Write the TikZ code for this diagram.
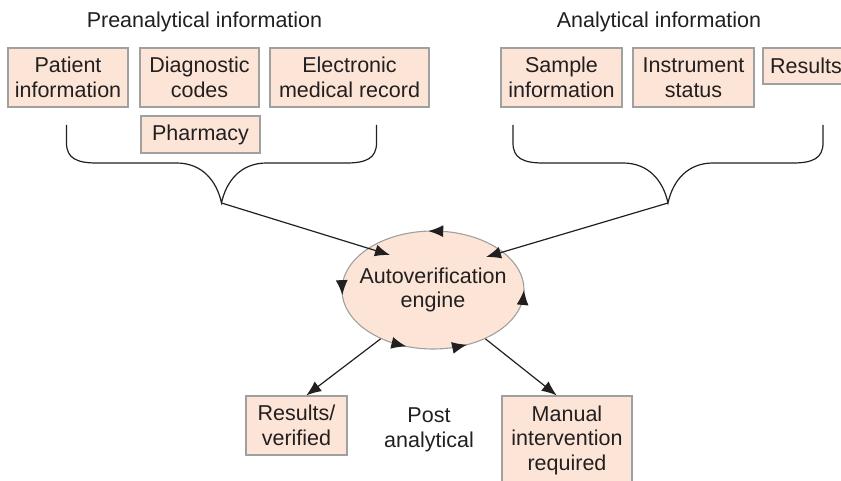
\documentclass[tikz,border=0pt]{standalone}
\usepackage{fontspec}
\setmainfont{Liberation Sans}
\usetikzlibrary{shapes.geometric,arrows.meta,calc}
\definecolor{peach}{RGB}{252,229,214}
\definecolor{boxline}{RGB}{160,160,160}
\definecolor{ink}{RGB}{35,31,32}
\tikzset{
	infobox/.style={draw=boxline, fill=peach, line width=1.1pt, align=center, inner sep=0pt},
	arr/.style={-{Latex[length=15pt,width=12pt]}, line width=1.2pt, draw=ink},
}

\begin{document}
\begin{tikzpicture}[x=1pt, y=-1pt, font=\fontsize{21.5}{24.5}\selectfont, text=ink]
	\clip(0, 0)rectangle(841, 481);
	% headings
	\node(pre)at(204.5, 22){Preanalytical information};
	\node(ana)at(659, 22){Analytical information};
	% preanalytical sources
	\node[infobox, minimum width=120pt, minimum height=59pt](patient)at(68, 77.5){Patient\\information};
	\node[infobox, minimum width=119pt, minimum height=59pt](diag)at(199.5, 77.5){Diagnostic\\codes};
	\node[infobox, minimum width=159pt, minimum height=59pt](emr)at(349.5, 77.5){Electronic\\medical record};
	\node[infobox, minimum width=119pt, minimum height=37pt](pharm)at(200.5, 134.5){Pharmacy};
	% analytical sources
	\node[infobox, minimum width=121pt, minimum height=59pt](sample)at(561.5, 77.5){Sample\\information};
	\node[infobox, minimum width=121pt, minimum height=59pt](instr)at(693.5, 77.5){Instrument\\status};
	\node[infobox, minimum width=86pt, minimum height=36pt](results)at(806, 66){Results};
	% the two braces
	\foreach \tx/\nm in {221.5/L, 668/R}{
		\coordinate(tip\nm)at(\tx, 203);
		\draw[line width=1.2pt, ink]({\tx-155}, 125)--({\tx-155}, 143)
			..controls({\tx-155}, 158)and({\tx-145}, 163)..({\tx-125}, 163)--({\tx-45}, 163)
			..controls({\tx-20}, 163)and({\tx-5}, 180)..(tip\nm)
			..controls({\tx+5}, 180)and({\tx+20}, 163)..({\tx+45}, 163)--({\tx+125}, 163)
			..controls({\tx+145}, 163)and({\tx+155}, 158)..({\tx+155}, 143)--({\tx+155}, 125);
	}
	% engine
	\node[ellipse, draw=boxline, fill=peach, line width=1.1pt, minimum width=182pt, minimum height=118pt, inner sep=0pt](engine)at(433, 290){};
	\node[align=center](engtext)at(engine){Autoverification\\engine};
	\foreach \a in {267, 175, 107, 68, 0}
		\draw[arr]($(engine.center)+({\a+7}:91 and 59)$)--($(engine.center)+(\a:91 and 59)$);
	\coordinate(inL)at(390, 255);
	\coordinate(inR)at(486, 257);
	\draw[arr](tipL)--(inL);
	\draw[arr](tipR)--(inR);
	% post analytical
	\node[infobox, minimum width=101pt, minimum height=59pt](verified)at(296.5, 425.5){Results/\\verified};
	\node[align=center](post)at(429, 430){Post\\analytical};
	\node[infobox, minimum width=130pt, minimum height=88pt](manual)at(567, 440){Manual\\intervention\\required};
	\draw[arr](engine.223)--(verified.72);
	\draw[arr](engine.317)--(manual.103);
\end{tikzpicture}
\end{document}
